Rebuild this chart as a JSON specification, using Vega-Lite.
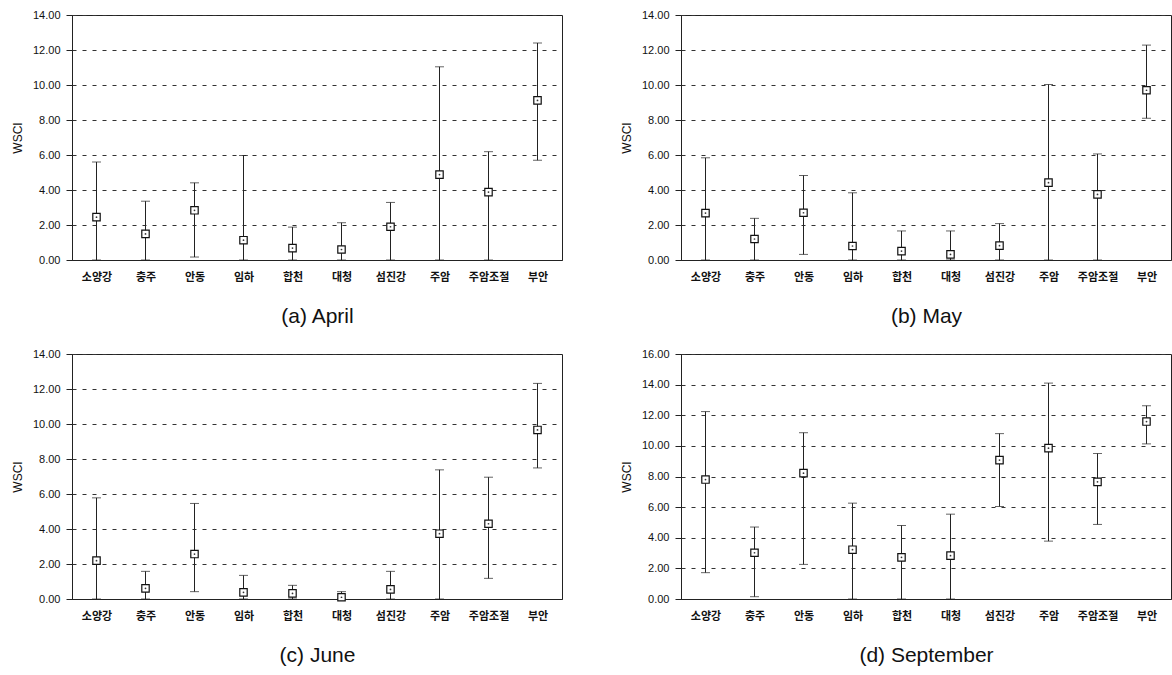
{
  "$schema": "https://vega.github.io/schema/vega-lite/v6.json",
  "background": "white",
  "padding": {"left": 10, "top": 8, "right": 0, "bottom": 0},
  "config": {
    "view": {"stroke": "#222", "strokeWidth": 1},
    "axis": {"labelFont": "Liberation Sans", "titleFont": "Liberation Sans"},
    "axisY": {"format": ".2f", "grid": true, "gridDash": [4, 6], "gridColor": "#333", "gridWidth": 1, "domainColor": "#222", "tickColor": "#222", "tickSize": 6, "labelPadding": 6, "labelFontSize": 11, "labelColor": "#111", "titleFontSize": 12, "titleFontWeight": "normal", "titleColor": "#111", "titlePadding": 8, "labelOverlap": false},
    "axisX": {"labelAngle": 0, "ticks": false, "domainColor": "#222", "labelFont": "Noto Sans CJK KR", "labelFontWeight": "bold", "labelFontSize": 11, "labelColor": "#111", "labelPadding": 11, "titleFont": "Liberation Sans", "titleFontSize": 21, "titleFontWeight": "normal", "titleColor": "#111", "titlePadding": 23}
  },
  "datasets": {
    "wsci": [
      {"month": "April", "site": "소양강", "lo": 0, "hi": 5.6, "mean": 2.45},
      {"month": "April", "site": "충주", "lo": 0, "hi": 3.36, "mean": 1.49},
      {"month": "April", "site": "안동", "lo": 0.17, "hi": 4.41, "mean": 2.84},
      {"month": "April", "site": "임하", "lo": 0, "hi": 5.97, "mean": 1.13},
      {"month": "April", "site": "합천", "lo": 0, "hi": 1.88, "mean": 0.68},
      {"month": "April", "site": "대청", "lo": 0, "hi": 2.13, "mean": 0.6},
      {"month": "April", "site": "섬진강", "lo": 0, "hi": 3.29, "mean": 1.9},
      {"month": "April", "site": "주암", "lo": 0, "hi": 11.04, "mean": 4.88},
      {"month": "April", "site": "주암조절", "lo": 0, "hi": 6.19, "mean": 3.88},
      {"month": "April", "site": "부안", "lo": 5.7, "hi": 12.4, "mean": 9.12},
      {"month": "May", "site": "소양강", "lo": 0, "hi": 5.84, "mean": 2.68},
      {"month": "May", "site": "충주", "lo": 0, "hi": 2.38, "mean": 1.2},
      {"month": "May", "site": "안동", "lo": 0.32, "hi": 4.83, "mean": 2.7},
      {"month": "May", "site": "임하", "lo": 0, "hi": 3.84, "mean": 0.8},
      {"month": "May", "site": "합천", "lo": 0, "hi": 1.66, "mean": 0.51},
      {"month": "May", "site": "대청", "lo": 0, "hi": 1.66, "mean": 0.32},
      {"month": "May", "site": "섬진강", "lo": 0, "hi": 2.08, "mean": 0.82},
      {"month": "May", "site": "주암", "lo": 0, "hi": 10.03, "mean": 4.42},
      {"month": "May", "site": "주암조절", "lo": 0, "hi": 6.06, "mean": 3.75},
      {"month": "May", "site": "부안", "lo": 8.1, "hi": 12.28, "mean": 9.7},
      {"month": "June", "site": "소양강", "lo": 0, "hi": 5.78, "mean": 2.19},
      {"month": "June", "site": "충주", "lo": 0, "hi": 1.58, "mean": 0.61},
      {"month": "June", "site": "안동", "lo": 0.42, "hi": 5.46, "mean": 2.57},
      {"month": "June", "site": "임하", "lo": 0, "hi": 1.35, "mean": 0.38},
      {"month": "June", "site": "합천", "lo": 0, "hi": 0.78, "mean": 0.32},
      {"month": "June", "site": "대청", "lo": 0, "hi": 0.42, "mean": 0.1},
      {"month": "June", "site": "섬진강", "lo": 0, "hi": 1.58, "mean": 0.55},
      {"month": "June", "site": "주암", "lo": 0, "hi": 7.38, "mean": 3.73},
      {"month": "June", "site": "주암조절", "lo": 1.18, "hi": 6.96, "mean": 4.3},
      {"month": "June", "site": "부안", "lo": 7.49, "hi": 12.32, "mean": 9.66},
      {"month": "September", "site": "소양강", "lo": 1.72, "hi": 12.24, "mean": 7.8},
      {"month": "September", "site": "충주", "lo": 0.15, "hi": 4.7, "mean": 3.02},
      {"month": "September", "site": "안동", "lo": 2.26, "hi": 10.86, "mean": 8.22},
      {"month": "September", "site": "임하", "lo": 0, "hi": 6.26, "mean": 3.22},
      {"month": "September", "site": "합천", "lo": 0, "hi": 4.8, "mean": 2.72},
      {"month": "September", "site": "대청", "lo": 0, "hi": 5.54, "mean": 2.83},
      {"month": "September", "site": "섬진강", "lo": 6.04, "hi": 10.8, "mean": 9.07},
      {"month": "September", "site": "주암", "lo": 3.78, "hi": 14.1, "mean": 9.85},
      {"month": "September", "site": "주암조절", "lo": 4.87, "hi": 9.5, "mean": 7.65},
      {"month": "September", "site": "부안", "lo": 10.13, "hi": 12.62, "mean": 11.59}
    ]
  },
  "data": {"name": "wsci"},
  "columns": 2,
  "spacing": {"row": 20, "column": 56},
  "concat": [
    {
      "width": 490, "height": 245,
      "transform": [{"filter": "datum.month == 'April'"}],
      "encoding": {
        "x": {"field": "site", "type": "nominal",
          "sort": ["소양강", "충주", "안동", "임하", "합천", "대청", "섬진강", "주암", "주암조절", "부안"],
          "scale": {"type": "point", "padding": 0.5},
          "axis": {"title": "(a)  April"}}
      },
      "layer": [
        {"mark": {"type": "rule", "color": "#222", "strokeWidth": 1},
          "encoding": {"y": {"field": "lo", "type": "quantitative", "scale": {"domain": [0, 14]}, "axis": {"title": "WSCI", "values": [0, 2, 4, 6, 8, 10, 12, 14]}}, "y2": {"field": "hi"}}},
        {"mark": {"type": "tick", "color": "#222", "size": 9, "thickness": 1}, "encoding": {"y": {"field": "hi", "type": "quantitative", "axis": {"title": "WSCI", "values": [0, 2, 4, 6, 8, 10, 12, 14]}}}},
        {"mark": {"type": "tick", "color": "#222", "size": 9, "thickness": 1}, "encoding": {"y": {"field": "lo", "type": "quantitative", "axis": {"title": "WSCI", "values": [0, 2, 4, 6, 8, 10, 12, 14]}}}},
        {"mark": {"type": "point", "shape": "square", "filled": true, "fill": "white", "stroke": "#111", "strokeWidth": 1.2, "size": 55, "opacity": 1}, "encoding": {"y": {"field": "mean", "type": "quantitative", "axis": {"title": "WSCI", "values": [0, 2, 4, 6, 8, 10, 12, 14]}}}},
        {"mark": {"type": "point", "shape": "circle", "filled": true, "color": "#333", "size": 3, "opacity": 1}, "encoding": {"y": {"field": "mean", "type": "quantitative", "axis": {"title": "WSCI", "values": [0, 2, 4, 6, 8, 10, 12, 14]}}}}
      ]
    },
    {
      "width": 490, "height": 245,
      "transform": [{"filter": "datum.month == 'May'"}],
      "encoding": {
        "x": {"field": "site", "type": "nominal",
          "sort": ["소양강", "충주", "안동", "임하", "합천", "대청", "섬진강", "주암", "주암조절", "부안"],
          "scale": {"type": "point", "padding": 0.5},
          "axis": {"title": "(b)  May"}}
      },
      "layer": [
        {"mark": {"type": "rule", "color": "#222", "strokeWidth": 1},
          "encoding": {"y": {"field": "lo", "type": "quantitative", "scale": {"domain": [0, 14]}, "axis": {"title": "WSCI", "values": [0, 2, 4, 6, 8, 10, 12, 14]}}, "y2": {"field": "hi"}}},
        {"mark": {"type": "tick", "color": "#222", "size": 9, "thickness": 1}, "encoding": {"y": {"field": "hi", "type": "quantitative", "axis": {"title": "WSCI", "values": [0, 2, 4, 6, 8, 10, 12, 14]}}}},
        {"mark": {"type": "tick", "color": "#222", "size": 9, "thickness": 1}, "encoding": {"y": {"field": "lo", "type": "quantitative", "axis": {"title": "WSCI", "values": [0, 2, 4, 6, 8, 10, 12, 14]}}}},
        {"mark": {"type": "point", "shape": "square", "filled": true, "fill": "white", "stroke": "#111", "strokeWidth": 1.2, "size": 55, "opacity": 1}, "encoding": {"y": {"field": "mean", "type": "quantitative", "axis": {"title": "WSCI", "values": [0, 2, 4, 6, 8, 10, 12, 14]}}}},
        {"mark": {"type": "point", "shape": "circle", "filled": true, "color": "#333", "size": 3, "opacity": 1}, "encoding": {"y": {"field": "mean", "type": "quantitative", "axis": {"title": "WSCI", "values": [0, 2, 4, 6, 8, 10, 12, 14]}}}}
      ]
    },
    {
      "width": 490, "height": 245,
      "transform": [{"filter": "datum.month == 'June'"}],
      "encoding": {
        "x": {"field": "site", "type": "nominal",
          "sort": ["소양강", "충주", "안동", "임하", "합천", "대청", "섬진강", "주암", "주암조절", "부안"],
          "scale": {"type": "point", "padding": 0.5},
          "axis": {"title": "(c)  June"}}
      },
      "layer": [
        {"mark": {"type": "rule", "color": "#222", "strokeWidth": 1},
          "encoding": {"y": {"field": "lo", "type": "quantitative", "scale": {"domain": [0, 14]}, "axis": {"title": "WSCI", "values": [0, 2, 4, 6, 8, 10, 12, 14]}}, "y2": {"field": "hi"}}},
        {"mark": {"type": "tick", "color": "#222", "size": 9, "thickness": 1}, "encoding": {"y": {"field": "hi", "type": "quantitative", "axis": {"title": "WSCI", "values": [0, 2, 4, 6, 8, 10, 12, 14]}}}},
        {"mark": {"type": "tick", "color": "#222", "size": 9, "thickness": 1}, "encoding": {"y": {"field": "lo", "type": "quantitative", "axis": {"title": "WSCI", "values": [0, 2, 4, 6, 8, 10, 12, 14]}}}},
        {"mark": {"type": "point", "shape": "square", "filled": true, "fill": "white", "stroke": "#111", "strokeWidth": 1.2, "size": 55, "opacity": 1}, "encoding": {"y": {"field": "mean", "type": "quantitative", "axis": {"title": "WSCI", "values": [0, 2, 4, 6, 8, 10, 12, 14]}}}},
        {"mark": {"type": "point", "shape": "circle", "filled": true, "color": "#333", "size": 3, "opacity": 1}, "encoding": {"y": {"field": "mean", "type": "quantitative", "axis": {"title": "WSCI", "values": [0, 2, 4, 6, 8, 10, 12, 14]}}}}
      ]
    },
    {
      "width": 490, "height": 245,
      "transform": [{"filter": "datum.month == 'September'"}],
      "encoding": {
        "x": {"field": "site", "type": "nominal",
          "sort": ["소양강", "충주", "안동", "임하", "합천", "대청", "섬진강", "주암", "주암조절", "부안"],
          "scale": {"type": "point", "padding": 0.5},
          "axis": {"title": "(d)  September"}}
      },
      "layer": [
        {"mark": {"type": "rule", "color": "#222", "strokeWidth": 1},
          "encoding": {"y": {"field": "lo", "type": "quantitative", "scale": {"domain": [0, 16]}, "axis": {"title": "WSCI", "values": [0, 2, 4, 6, 8, 10, 12, 14, 16]}}, "y2": {"field": "hi"}}},
        {"mark": {"type": "tick", "color": "#222", "size": 9, "thickness": 1}, "encoding": {"y": {"field": "hi", "type": "quantitative", "axis": {"title": "WSCI", "values": [0, 2, 4, 6, 8, 10, 12, 14, 16]}}}},
        {"mark": {"type": "tick", "color": "#222", "size": 9, "thickness": 1}, "encoding": {"y": {"field": "lo", "type": "quantitative", "axis": {"title": "WSCI", "values": [0, 2, 4, 6, 8, 10, 12, 14, 16]}}}},
        {"mark": {"type": "point", "shape": "square", "filled": true, "fill": "white", "stroke": "#111", "strokeWidth": 1.2, "size": 55, "opacity": 1}, "encoding": {"y": {"field": "mean", "type": "quantitative", "axis": {"title": "WSCI", "values": [0, 2, 4, 6, 8, 10, 12, 14, 16]}}}},
        {"mark": {"type": "point", "shape": "circle", "filled": true, "color": "#333", "size": 3, "opacity": 1}, "encoding": {"y": {"field": "mean", "type": "quantitative", "axis": {"title": "WSCI", "values": [0, 2, 4, 6, 8, 10, 12, 14, 16]}}}}
      ]
    }
  ]
}
